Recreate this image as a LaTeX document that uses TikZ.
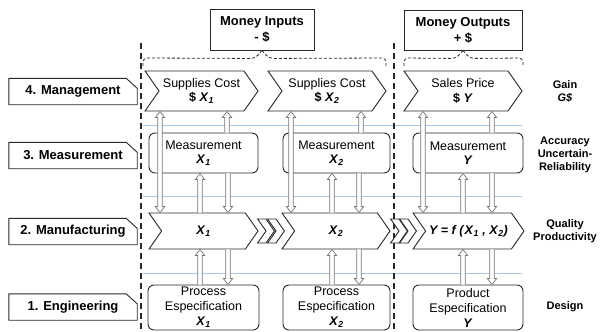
\documentclass[tikz,border=0pt]{standalone}
\usepackage{fontspec}
\setmainfont{Liberation Sans}
\usetikzlibrary{shapes.symbols,calc}
\definecolor{guidec}{RGB}{165,200,235}
\definecolor{arrc}{RGB}{120,120,120}
\definecolor{linec}{RGB}{40,40,40}
\newcommand\xv[1]{\textbf{\textit{X}\textsubscript{\textbf{\textit{#1}}}}}
\newcommand\yv{\textbf{\textit{Y}}}
\newcommand\arrUp[2]{\path[harr] let \p1=#1, \p2=#2 in (\x1-2.2pt,\y1) -- (\x1-2.2pt,\y2-6pt) -- (\x1-4.6pt,\y2-6pt) -- (\x1,\y2) -- (\x1+4.6pt,\y2-6pt) -- (\x1+2.2pt,\y2-6pt) -- (\x1+2.2pt,\y1);}
\newcommand\arrDown[2]{\path[harr] let \p1=#1, \p2=#2 in (\x1-2.2pt,\y1) -- (\x1-2.2pt,\y2+6pt) -- (\x1-4.6pt,\y2+6pt) -- (\x1,\y2) -- (\x1+4.6pt,\y2+6pt) -- (\x1+2.2pt,\y2+6pt) -- (\x1+2.2pt,\y1);}
\newcommand\arrBoth[2]{\path[harr] let \p1=#1, \p2=#2 in (\x1-2.2pt,\y1+6pt) -- (\x1-4.6pt,\y1+6pt) -- (\x1,\y1) -- (\x1+4.6pt,\y1+6pt) -- (\x1+2.2pt,\y1+6pt) -- (\x1+2.2pt,\y2-6pt) -- (\x1+4.6pt,\y2-6pt) -- (\x1,\y2) -- (\x1-4.6pt,\y2-6pt) -- (\x1-2.2pt,\y2-6pt) -- cycle;}
\begin{document}
\begin{tikzpicture}[x=1pt,y=-1pt,
  every node/.style={font=\fontsize{12.5}{14.5}\selectfont, align=center},
  lab/.style={font=\fontsize{13}{15}\selectfont\bfseries, minimum width=128pt, minimum height=26pt, inner sep=0pt},
  labline/.style={draw=linec, line width=0.9pt},
  chev/.style={draw=linec, line width=0.9pt, fill=white, signal, signal from=west, signal to=east, signal pointer angle=110, inner sep=0pt},
  smallchev/.style={chev, minimum width=12pt, minimum height=24pt},
  rbox/.style={draw=linec, line width=0.9pt, rounded corners=6pt, fill=white, inner sep=0pt},
  engbox/.style={rbox, font=\fontsize{12.5}{15}\selectfont},
  money/.style={draw=linec, line width=0.9pt, inner sep=0pt, font=\fontsize{13}{16}\selectfont\bfseries},
  side/.style={font=\fontsize{11}{13}\selectfont\bfseries},
  harr/.style={draw=arrc, fill=white, line width=0.7pt},
  sep/.style={draw=linec, line width=1.6pt, dash pattern=on 6pt off 4pt},
  guide/.style={draw=guidec, line width=1pt},
  bracel/.style={draw=linec, line width=0.8pt, dash pattern=on 3pt off 2pt, rounded corners=4pt}
]
\useasboundingbox (0,0) rectangle (600,332);

% guide lines
\draw[guide] (143,125.5) -- (522,125.5);
\draw[guide] (143,196.5) -- (522,196.5);
\draw[guide] (143,273.5) -- (522,273.5);

% separators
\draw[sep] (141,43) -- (141,332);
\draw[sep] (394,43) -- (394,332);

% money boxes
\node[money, minimum width=104pt, minimum height=41pt] (mi) at (262,29.5) {Money Inputs\\- \$};
\node[money, minimum width=118pt, minimum height=40pt] (mo) at (463,30) {Money Outputs\\+ \$};

% braces
\draw[bracel] (143,66) -- (143,58) -- ($(mi.south)+(-7,8)$) -- (mi.south);
\draw[bracel] (mi.south) -- ($(mi.south)+(7,8)$) -- (386,58) -- (386,66);
\draw[bracel] (404,66) -- (404,58) -- ($(mo.south)+(-7,8)$) -- (mo.south);
\draw[bracel] (mo.south) -- ($(mo.south)+(7,8)$) -- (523,58) -- (523,66);

% left labels
\foreach \nm/\yy/\tx in {L4/91.5/4. Management, L3/155.5/3. Measurement, L2/231.5/2. Manufacturing, L1/307/1. Engineering}{
  \node[lab] (\nm) at (73,\yy) {\tx};
  \draw[labline] (\nm.south west) -- (\nm.north west) -- ($(\nm.north east)+(-11,0)$) -- ($(\nm.north east)+(0,10)$) -- (\nm.south east) -- cycle;
}

% row 4 chevrons
\node[chev, minimum width=113pt, minimum height=40pt] (s1) at (201.5,91) {Supplies Cost\\\textbf{\$} \xv{1}};
\node[chev, minimum width=118pt, minimum height=40pt] (s2) at (327,91) {Supplies Cost\\\textbf{\$} \xv{2}};
\node[chev, minimum width=118pt, minimum height=40pt] (s3) at (463,91) {Sales Price\\\textbf{\$} \yv};

% row 3 measurement
\node[rbox, minimum width=109pt, minimum height=40pt] (m1) at (203.5,153) {Measurement\\\xv{1}};
\node[rbox, minimum width=107pt, minimum height=40pt] (m2) at (336.5,153) {Measurement\\\xv{2}};
\node[rbox, minimum width=110pt, minimum height=40pt] (m3) at (468,153) {Measurement\\\yv};

% row 2 manufacturing
\node[chev, minimum width=109pt, minimum height=36pt] (p1) at (203.5,231) {\xv{1}};
\node[chev, minimum width=108pt, minimum height=36pt] (p2) at (336,231) {\xv{2}};
\node[chev, minimum width=111pt, minimum height=36pt] (p3) at (468.5,231) {\textbf{\textit{Y = f (}}\xv{1}\textbf{\textit{ , }}\xv{2}\textbf{\textit{)}}};
\node[smallchev] (k1) at (266,231) {};
\node[smallchev] (k2) at (276,231) {};
\node[smallchev] (k3) at (399,231) {};
\node[smallchev] (k4) at (408,231) {};

% row 1 engineering
\node[engbox, minimum width=111pt, minimum height=45pt] (e1) at (203.5,307.5) {Process\\Especification\\\xv{1}};
\node[engbox, minimum width=107pt, minimum height=45pt] (e2) at (336.5,307.5) {Process\\Especification\\\xv{2}};
\node[engbox, minimum width=110pt, minimum height=45pt] (e3) at (468,307.5) {Product\\Especification\\\yv};

% right labels
\node[side] (g4) at (565,91) {Gain\\\textit{G\$}};
\node[side] (g3) at (565,155) {Accuracy\\Uncertain-\\Reliability};
\node[side] (g2) at (565,231) {Quality\\Productivity};
\node[side] (g1) at (565,307) {Design};

% arrow columns
\coordinate (cL1) at (160,0);  \coordinate (cT1) at (227,0); \coordinate (cU1) at (200,0); \coordinate (cD1) at (228,0);
\coordinate (cL2) at (291,0);  \coordinate (cT2) at (361,0); \coordinate (cU2) at (332,0); \coordinate (cD2) at (359,0);
\coordinate (cL3) at (423,0);  \coordinate (cT3) at (492,0); \coordinate (cU3) at (463,0); \coordinate (cD3) at (492,0);

\foreach \i in {1,2,3}{
  \arrBoth{(cL\i |- p\i.north)}{(cL\i |- s\i.south)}
  \arrUp{(cT\i |- m\i.north)}{(cT\i |- s\i.south)}
  \arrUp{(cU\i |- p\i.north)}{(cU\i |- m\i.south)}
  \arrDown{(cD\i |- m\i.south)}{(cD\i |- p\i.north)}
  \arrUp{(cU\i |- e\i.north)}{(cU\i |- p\i.south)}
  \arrDown{(cD\i |- p\i.south)}{(cD\i |- e\i.north)}
}
\end{tikzpicture}
\end{document}
